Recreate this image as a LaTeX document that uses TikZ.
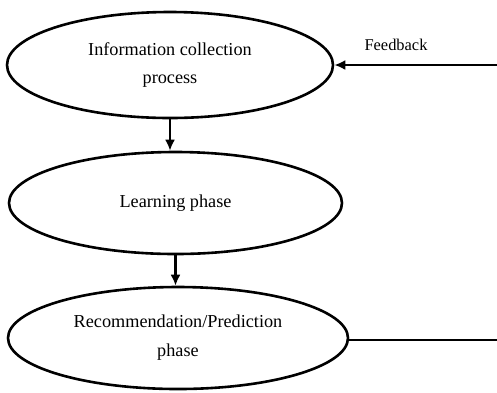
\documentclass[tikz,border=0pt]{standalone}
\usepackage{fontspec}
\setmainfont{Liberation Serif}
\usepackage{tikz}
\usetikzlibrary{shapes.geometric, positioning, arrows.meta}

\begin{document}
\begin{tikzpicture}[
  x=1bp, y=-1bp,
  phase/.style={
    ellipse, draw, line width=2.6bp,
    inner sep=0pt, align=center,
    font=\fontsize{18.3}{29}\selectfont
  },
  flow/.style={line width=2.6bp, -{Latex[length=11bp,width=10bp]}}
]
\useasboundingbox (0,0) rectangle (497,392);
\node[phase, minimum width=326bp, minimum height=106bp] (info) at (170,65)
  {Information collection\\process};
\node[phase, minimum width=333bp, minimum height=102bp] (learn) at (175.5,203)
  {Learning phase};
\node[phase, minimum width=340bp, minimum height=102bp] (rec) at (178,338)
  {Recommendation/Prediction\\phase};
\coordinate (fbin) at (497,65);
\coordinate (fbout) at (497,340);
% arrows between phases
\draw[flow] (info.south) -- (info.south |- learn.north);
\draw[flow] (learn.south) -- (learn.south |- rec.north);
% feedback loop
\draw[flow] (fbin) -- (info.east);
\node[font=\fontsize{16.5}{20}\selectfont] (fb) at (396,45) {Feedback};
\draw[line width=2.6bp] (rec.east |- fbout) -- (fbout);
\end{tikzpicture}
\end{document}
